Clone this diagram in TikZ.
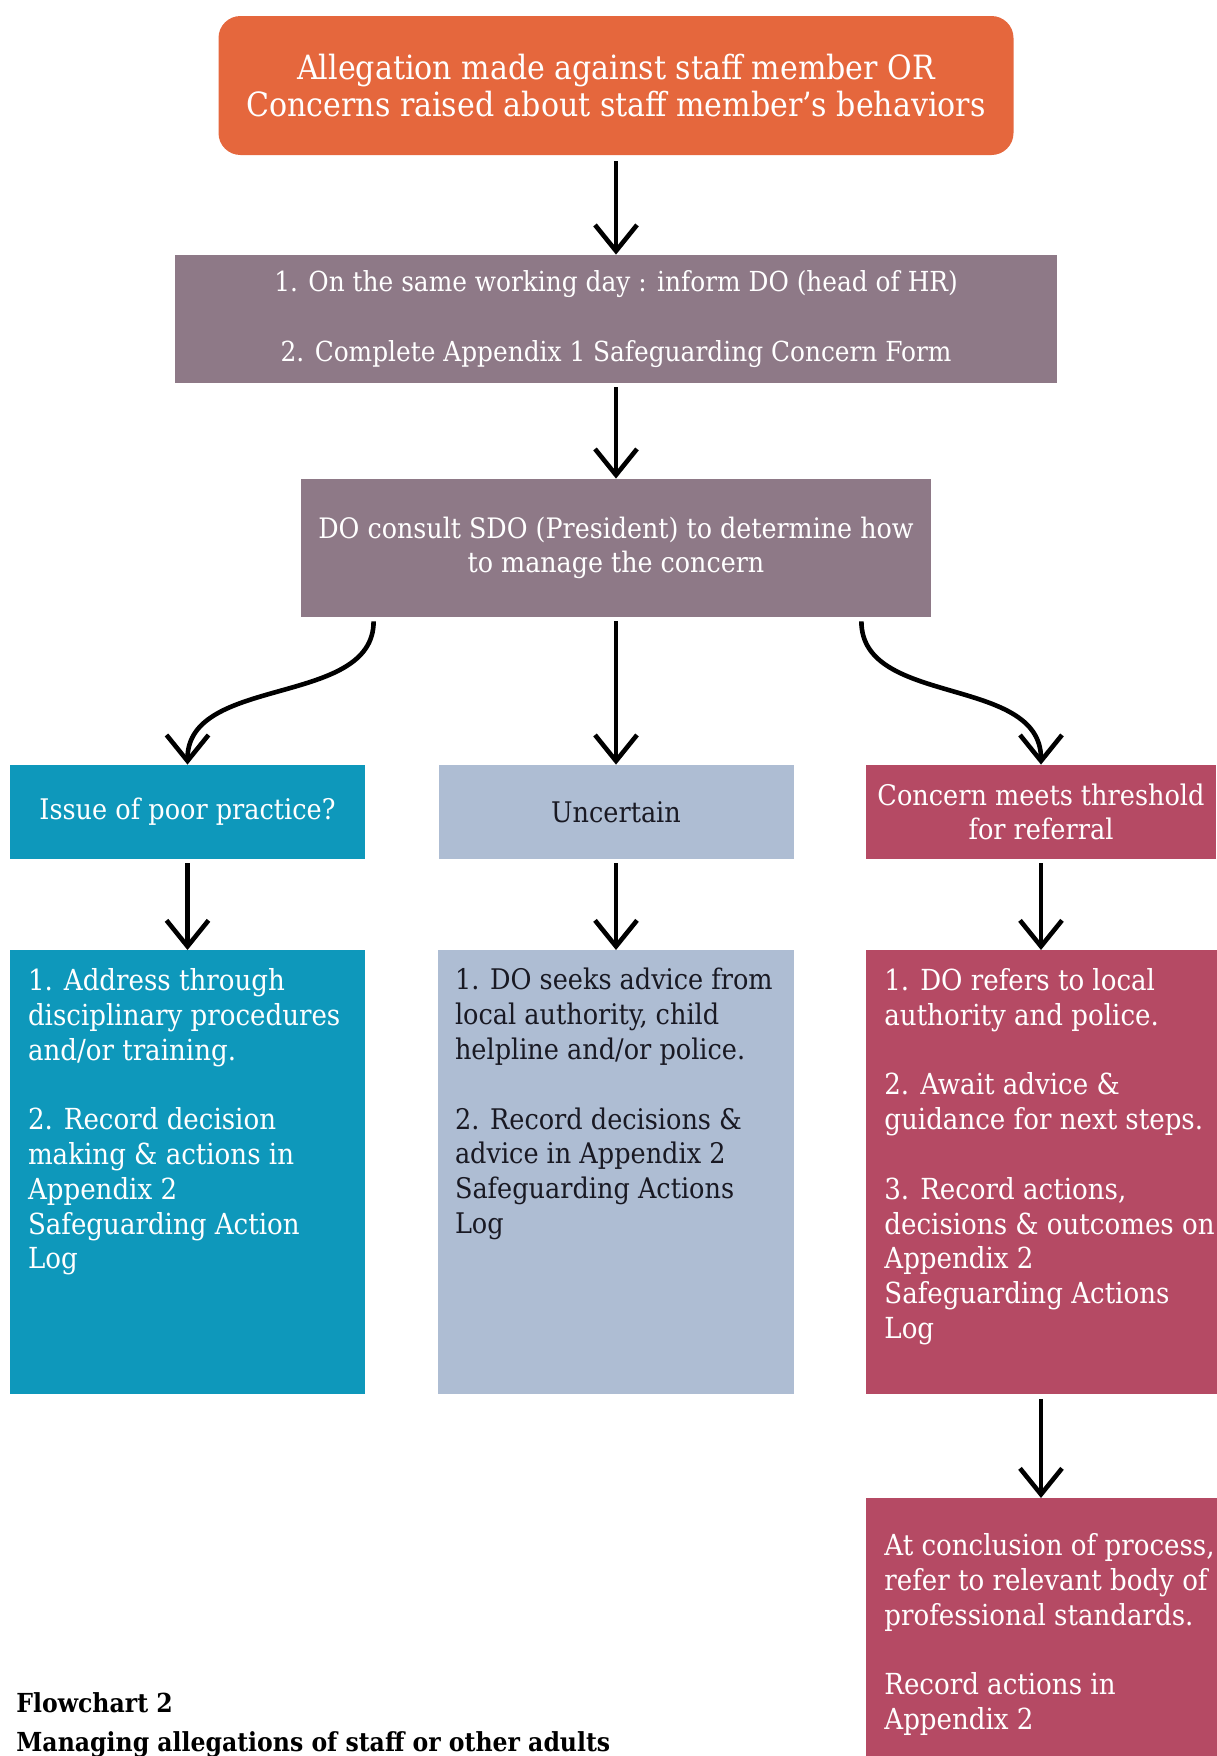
\documentclass[tikz,border=0pt]{standalone}
\usepackage{fontspec}
\setmainfont{DejaVu Serif Condensed}
\usepackage{tikz}
\usetikzlibrary{arrows.meta,positioning,calc}
\definecolor{allegorange}{RGB}{229,103,61}
\definecolor{stepmauve}{RGB}{142,121,135}
\definecolor{poorteal}{RGB}{14,152,187}
\definecolor{unsureblue}{RGB}{174,189,211}
\definecolor{referred}{RGB}{181,74,100}
\definecolor{darkink}{RGB}{25,25,35}

\begin{document}
\begin{tikzpicture}[x=0.5pt, y=-0.5pt,
      stepbox/.style={rectangle, fill=stepmauve, text=white, align=center,
                      inner sep=0pt},
      choicebox/.style={rectangle, text=white, align=center, inner sep=0pt,
                        minimum width=177.5pt, minimum height=47pt,
                        font=\fontsize{14.2}{17.4}\selectfont},
      notebox/.style={rectangle, text=white, align=left, anchor=north,
                      inner sep=9pt, font=\fontsize{14.5}{17.4}\selectfont},
      arrow/.style={-{Straight Barb[length=13pt,width=21pt,line width=2.3pt]},
                    line width=2.3pt, black},
    ]
      \useasboundingbox (0,0) rectangle (1216,1756);
      %% Allegation / first steps
      \node[rectangle, rounded corners=11pt, fill=allegorange, text=white,
            align=center, minimum width=397.5pt, minimum height=69.5pt,
            font=\fontsize{16.7}{18.5}\selectfont] (alleg) at (616, 85.5)
            {Allegation made against staff member OR\\
             Concerns raised about staff member's behaviors};
      \node[stepbox, minimum width=441pt, minimum height=64pt,
            font=\fontsize{13.8}{17.3}\selectfont] (inform)
            at (616, 319) {1. On the same working day : inform DO (head of HR)\\[17.4pt]
                           2. Complete Appendix 1 Safeguarding Concern Form};
      \node[stepbox, minimum width=315pt, minimum height=69pt,
            font=\fontsize{14.1}{17.4}\selectfont] (consult)
            at (616, 548) {DO consult SDO (President) to determine how\\
                           to manage the concern};
      %% Three outcomes
      \node[choicebox, fill=poorteal] (poor) at (187.5, 812) {Issue of poor practice?};
      \node[choicebox, fill=unsureblue, text=darkink] (uncert) at (616, 812) {Uncertain};
      \node[choicebox, fill=referred, minimum width=175pt] (thresh) at (1041, 812)
            {Concern meets threshold\\for referral};
      %% What to do next
      \node[notebox, fill=poorteal] (poornote) at (187.5, 950) {%
        \parbox[t][204pt][t]{159.5pt}{\raggedright 1. Address through\\
          disciplinary procedures\\and/or training.\\[17.4pt]
          2. Record decision\\making \& actions in\\Appendix 2\\
          Safeguarding Action\\Log}};
      \node[notebox, fill=unsureblue, text=darkink, inner xsep=8.5pt,
            font=\fontsize{14.2}{17.4}\selectfont] (uncertnote) at (616, 950) {%
        \parbox[t][204pt][t]{161pt}{\raggedright 1. DO seeks advice from\\
          local authority, child\\helpline and/or police.\\[17.4pt]
          2. Record decisions \&\\advice in Appendix 2\\
          Safeguarding Actions\\Log}};
      \node[notebox, fill=referred, anchor=north west] (threshnote) at (866, 950) {%
        \parbox[t][204pt][t]{170pt}{\raggedright 1. DO refers to local\\
          authority and police.\\[17.4pt]
          2. Await advice \&\\guidance for next steps.\\[17.4pt]
          3. Record actions,\\decisions \& outcomes on\\Appendix 2\\
          Safeguarding Actions\\Log}};
      \node[notebox, fill=referred, anchor=north west] (conclude) at (866, 1498) {%
        \parbox[t][111pt][t]{170pt}{\raggedright\vspace*{8.5pt}At conclusion of process,\\
          refer to relevant body of\\professional standards.\\[17.4pt]
          Record actions in\\Appendix 2}};
      \node[anchor=north west, align=left, inner sep=0pt,
            font=\bfseries\fontsize{13.1}{19.5}\selectfont]
            (title) at (16, 1692) {Flowchart 2\\Managing allegations of staff or other adults};
      %% Arrows
      \draw[arrow, shorten <=3pt] (alleg) -- (inform);
      \draw[arrow, shorten <=2pt] (inform) -- (consult);
      \draw[arrow, shorten <=2pt] ([xshift=36.5pt]consult.south west)
            .. controls +(0,90) and +(0,-90) .. (poor.north);
      \draw[arrow, shorten <=2pt] (consult) -- (uncert);
      \draw[arrow, shorten <=2pt] ([xshift=-35pt]consult.south east)
            .. controls +(0,90) and +(0,-90) .. (thresh.north);
      \draw[arrow, shorten <=2pt] (poor) -- (poornote);
      \draw[arrow, shorten <=2pt] (uncert) -- (uncertnote);
      \draw[arrow, shorten <=2pt] (thresh) -- (thresh |- threshnote.north);
      \draw[arrow, shorten <=2pt] (thresh |- threshnote.south) -- (thresh |- conclude.north);
    \end{tikzpicture}
\end{document}
